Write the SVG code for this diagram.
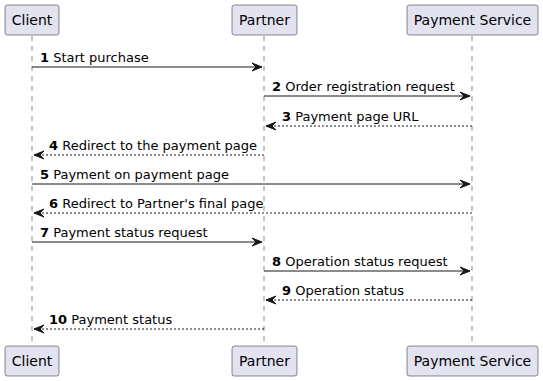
<svg xmlns="http://www.w3.org/2000/svg" width="543" height="381" viewBox="0 0 543 381">
<style>
.box{fill:#E2E2F0;stroke:#181818;stroke-width:0.5}
.life{stroke:#181818;stroke-width:0.5;stroke-dasharray:5,5;fill:none}
.pt{font-family:"DejaVu Sans",sans-serif;font-size:14px;fill:#000}
.mt{font-family:"DejaVu Sans",sans-serif;font-size:13px;fill:#000}
.num{font-weight:bold}
.msg{stroke:#181818;stroke-width:1;fill:none}
.dash{stroke-dasharray:2,2}
.head{fill:#181818;stroke:#181818;stroke-width:1}
</style>
<rect width="543" height="381" fill="#FFFFFF"/>
<g id="lifelines">
<line class="life" x1="32" y1="36" x2="32" y2="346"/>
<line class="life" x1="264" y1="36" x2="264" y2="346"/>
<line class="life" x1="472" y1="36" x2="472" y2="346"/>
</g>
<g id="client">
<rect class="box" x="5" y="5" width="54" height="30" rx="2.5"/>
<text class="pt" x="32" y="25" text-anchor="middle">Client</text>
<rect class="box" x="5" y="346" width="54" height="30" rx="2.5"/>
<text class="pt" x="32" y="366" text-anchor="middle">Client</text>
</g>
<g id="partner">
<rect class="box" x="232" y="5" width="65" height="30" rx="2.5"/>
<text class="pt" x="264.5" y="25" text-anchor="middle">Partner</text>
<rect class="box" x="232" y="346" width="65" height="30" rx="2.5"/>
<text class="pt" x="264.5" y="366" text-anchor="middle">Partner</text>
</g>
<g id="payment">
<rect class="box" x="407" y="5" width="131" height="30" rx="2.5"/>
<text class="pt" x="472.5" y="25" text-anchor="middle">Payment Service</text>
<rect class="box" x="407" y="346" width="131" height="30" rx="2.5"/>
<text class="pt" x="472.5" y="366" text-anchor="middle">Payment Service</text>
</g>
<g id="connectors">
<line class="msg" x1="32" y1="67" x2="262" y2="67"/>
<polygon class="head" points="252,63 262,67 252,71 256,67"/>
<text class="mt" x="40" y="62"><tspan class="num">1</tspan> Start purchase</text>

<line class="msg" x1="264" y1="96" x2="470" y2="96"/>
<polygon class="head" points="460,92 470,96 460,100 464,96"/>
<text class="mt" x="272" y="91"><tspan class="num">2</tspan> Order registration request</text>

<line class="msg dash" x1="266" y1="126" x2="472" y2="126"/>
<polygon class="head" points="276,122 266,126 276,130 272,126"/>
<text class="mt" x="282" y="121"><tspan class="num">3</tspan> Payment page URL</text>

<line class="msg dash" x1="34" y1="155" x2="264" y2="155"/>
<polygon class="head" points="44,151 34,155 44,159 40,155"/>
<text class="mt" x="49" y="150"><tspan class="num">4</tspan> Redirect to the payment page</text>

<line class="msg" x1="32" y1="184" x2="470" y2="184"/>
<polygon class="head" points="460,180 470,184 460,188 464,184"/>
<text class="mt" x="40" y="179"><tspan class="num">5</tspan> Payment on payment page</text>

<line class="msg dash" x1="34" y1="213" x2="472" y2="213"/>
<polygon class="head" points="44,209 34,213 44,217 40,213"/>
<text class="mt" x="49" y="208"><tspan class="num">6</tspan> Redirect to Partner's final page</text>

<line class="msg" x1="32" y1="242" x2="262" y2="242"/>
<polygon class="head" points="252,238 262,242 252,246 256,242"/>
<text class="mt" x="40" y="237"><tspan class="num">7</tspan> Payment status request</text>

<line class="msg" x1="264" y1="271" x2="470" y2="271"/>
<polygon class="head" points="460,267 470,271 460,275 464,271"/>
<text class="mt" x="272" y="266"><tspan class="num">8</tspan> Operation status request</text>

<line class="msg dash" x1="266" y1="300" x2="472" y2="300"/>
<polygon class="head" points="276,296 266,300 276,304 272,300"/>
<text class="mt" x="282" y="295"><tspan class="num">9</tspan> Operation status</text>

<line class="msg dash" x1="34" y1="329" x2="264" y2="329"/>
<polygon class="head" points="44,325 34,329 44,333 40,329"/>
<text class="mt" x="49" y="324"><tspan class="num">10</tspan> Payment status</text>
</g>
</svg>
